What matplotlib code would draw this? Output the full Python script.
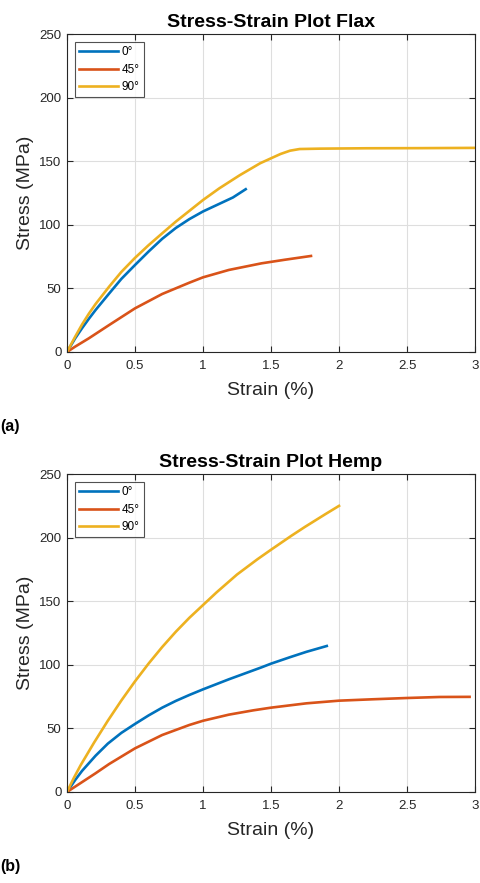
import matplotlib
matplotlib.use('Agg')
import matplotlib.pyplot as plt

plt.rcParams['font.family'] = ['Liberation Sans', 'DejaVu Sans']

# Flax
flax_0_strain = [0, 0.06, 0.11, 0.16, 0.21, 0.31, 0.40, 0.50, 0.60, 0.70, 0.80, 0.90,
                 1.00, 1.12, 1.22, 1.314]
flax_0_stress = [0, 10.7, 18.6, 26, 33, 46, 57.5, 68.4, 79, 89, 97.5, 104.5,
                 110.5, 116.5, 121.5, 128]
flax_45_strain = [0, 0.06, 0.16, 0.31, 0.50, 0.70, 0.90, 1.00, 1.19, 1.43, 1.60, 1.794]
flax_45_stress = [0, 4.2, 10.7, 21.2, 34.3, 45.6, 54.5, 58.7, 64.5, 69.7, 72.5, 75.5]
flax_90_strain = [0, 0.06, 0.11, 0.16, 0.21, 0.31, 0.40, 0.50, 0.60, 0.70, 0.80, 0.90,
                  1.00, 1.12, 1.27, 1.42, 1.50, 1.57, 1.64, 1.71, 1.86, 2.2, 2.6, 3.0]
flax_90_stress = [0, 12, 21.5, 30, 37.7, 51.4, 63, 74, 84, 93.3, 102.5, 111,
                  119.5, 128.7, 139, 148.4, 152.3, 155.7, 158.3, 159.6, 159.9, 160.2, 160.3, 160.5]

# Hemp
hemp_0_strain = [0, 0.06, 0.11, 0.21, 0.30, 0.40, 0.50, 0.60, 0.70, 0.80, 0.90, 1.00,
                 1.19, 1.43, 1.50, 1.64, 1.76, 1.91]
hemp_0_stress = [0, 9.4, 16.5, 28.5, 38, 46.5, 53.5, 60.2, 66.3, 71.6, 76.3, 80.7,
                 88.6, 98, 100.9, 106, 110.2, 114.8]
hemp_45_strain = [0, 0.06, 0.21, 0.31, 0.50, 0.70, 0.90, 1.00, 1.19, 1.37, 1.50, 1.76,
                  2.00, 2.25, 2.50, 2.74, 2.96]
hemp_45_stress = [0, 4.2, 14.7, 22, 34.3, 44.8, 52.7, 56, 60.8, 64.2, 66.3, 69.7,
                  71.8, 72.9, 73.9, 74.7, 74.8]
hemp_90_strain = [0, 0.05, 0.1, 0.2, 0.3, 0.4, 0.5, 0.6, 0.7, 0.8, 0.9, 1.0,
                  1.1, 1.25, 1.4, 1.5, 1.65, 1.75, 1.9, 2.0]
hemp_90_stress = [0, 11, 21, 39, 56, 72, 87, 101, 114, 126, 137, 147,
                  157, 171, 183, 190.5, 201.5, 208.5, 218.5, 225]

labels = ['0°', '45°', '90°']
colors = ['#0072BD', '#D95319', '#EDB120']
xticks = [0, 0.5, 1, 1.5, 2, 2.5, 3]
xticklabels = ['0', '0.5', '1', '1.5', '2', '2.5', '3']
yticks = [0, 50, 100, 150, 200, 250]


def draw(ax, series, title):
    for (x, y), lab, c in zip(series, labels, colors):
        ax.plot(x, y, color=c, lw=1.9, label=lab, solid_joinstyle='round')
    ax.set_xlim(0, 3)
    ax.set_ylim(0, 250)
    ax.set_xticks(xticks)
    ax.set_xticklabels(xticklabels)
    ax.set_yticks(yticks)
    ax.grid(True, color='#dedede', lw=0.8)
    ax.set_axisbelow(True)
    ax.tick_params(direction='in', length=4, width=0.8, top=True, right=True,
                   labelsize=9.5, colors='#262626')
    ax.tick_params(axis='x', pad=6)
    ax.tick_params(axis='y', pad=4)
    for s in ax.spines.values():
        s.set_color('#262626')
        s.set_linewidth(0.8)
    ax.set_title(title, fontsize=14, fontweight='bold', pad=5)
    ax.set_xlabel('Strain (%)', fontsize=14, color='#262626', labelpad=7)
    ax.set_ylabel('Stress (MPa)', fontsize=14, color='#262626', labelpad=4)
    leg = ax.legend(loc='upper left', fontsize=8.5, frameon=True, fancybox=False,
                    edgecolor='#262626', handlelength=3.3, handletextpad=0.3,
                    borderpad=0.35, labelspacing=0.45, borderaxespad=0.7)
    leg.get_frame().set_linewidth(0.8)


fig = plt.figure(figsize=(4.8, 8.83), dpi=100)
ax1 = fig.add_axes([0.1396, 0.6014, 0.85, 0.360])
ax2 = fig.add_axes([0.1396, 0.1031, 0.85, 0.360])

draw(ax1, [(flax_0_strain, flax_0_stress), (flax_45_strain, flax_45_stress),
           (flax_90_strain, flax_90_stress)], 'Stress-Strain Plot Flax')
draw(ax2, [(hemp_0_strain, hemp_0_stress), (hemp_45_strain, hemp_45_stress),
           (hemp_90_strain, hemp_90_stress)], 'Stress-Strain Plot Hemp')

fig.text(0.0, 1 - 427 / 883, '(a)', fontsize=11.5, fontweight='bold', va='center', ha='left')
fig.text(0.0, 1 - 867 / 883, '(b)', fontsize=11.5, fontweight='bold', va='center', ha='left')

fig.savefig('out.png', dpi=100)
